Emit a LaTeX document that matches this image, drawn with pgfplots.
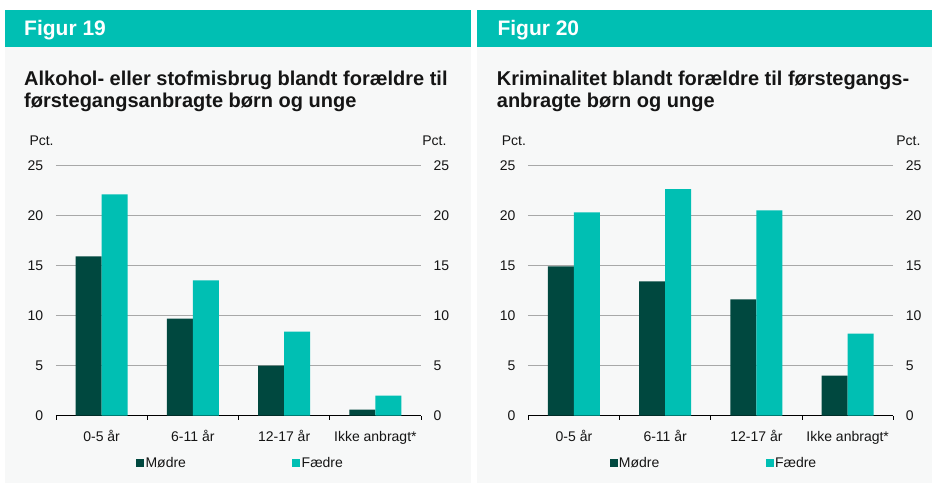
\documentclass[border=0pt]{standalone}
\usepackage{fontspec}
\setmainfont{Liberation Sans}
\usepackage{pgfplots}
\pgfplotsset{compat=1.18}

\definecolor{dk}{HTML}{00483F}
\definecolor{tl}{HTML}{00BFB3}
\definecolor{bgc}{HTML}{F7F8F8}
\definecolor{gridc}{HTML}{A8A8A8}
\definecolor{txt}{HTML}{151515}

\newcommand\tickfont{\fontsize{14bp}{16bp}\selectfont}

\pgfplotsset{
  base/.style={
    scale only axis, width=365bp, height=250.5bp,
    ymin=0, ymax=25, ytick={0,5,...,25},
    xmin=-0.5, xmax=3.5,
    ticklabel style={font=\tickfont, text=txt},
    /pgf/number format/assume math mode=true,
  },
  panel/.style={
    base,
    ybar=0pt, bar width=26bp,
    xtick={0,1,2,3},
    xticklabels={0-5 år,6-11 år,12-17 år,Ikke anbragt*},
    xtick style={draw=none},
    xticklabel style={anchor=base, yshift=-21.6bp, inner sep=0pt},
    extra x ticks={-0.5,0.5,1.5,2.5,3.5},
    extra x tick labels={},
    extra x tick style={grid=none, tick align=outside, major tick length=4bp,
      xtick style={draw=black, line width=0.8bp}},
    axis x line*=bottom, axis y line*=left,
    x axis line style={-, black, line width=1bp},
    y axis line style={draw=none},
    ytick style={draw=none},
    ymajorgrids, grid style={gridc, line width=0.8bp},
    yticklabel style={anchor=east, inner sep=0pt, xshift=-12.7bp},
    legend columns=2,
    legend image code/.code={\fill[#1] (0bp,-4bp) rectangle (8bp,4bp);},
    legend style={draw=none, fill=none, anchor=west, inner sep=0pt,
      font=\tickfont, text=txt, nodes={inner sep=1.35bp},
      /tikz/every even column/.append style={column sep=105bp}},
  },
  rightlab/.style={
    base,
    hide x axis,
    axis y line*=right,
    y axis line style={draw=none},
    ytick style={draw=none},
    yticklabel style={anchor=west, inner sep=0pt, xshift=12.3bp},
  },
}

\begin{document}
\begin{tikzpicture}
% canvas
\path (0bp,0bp) rectangle (932bp,483bp);
% panel backgrounds and headers
\fill[bgc] (5bp,0bp) rectangle (471bp,436bp);
\fill[tl] (5bp,436bp) rectangle (471bp,473bp);
\fill[bgc] (477bp,0bp) rectangle (932bp,436bp);
\fill[tl] (477bp,436bp) rectangle (932bp,473bp);

\node[anchor=base west, inner sep=0pt, text=white, font=\fontsize{21bp}{24bp}\selectfont\bfseries] at (24bp,447bp) {Figur 19};
\node[anchor=base west, inner sep=0pt, text=white, font=\fontsize{21bp}{24bp}\selectfont\bfseries] at (497.3bp,447bp) {Figur 20};

\node[anchor=base west, inner sep=0pt, text=txt, font=\fontsize{20bp}{23bp}\selectfont\bfseries] at (24bp,397bp) {Alkohol- eller stofmisbrug blandt forældre til};
\node[anchor=base west, inner sep=0pt, text=txt, font=\fontsize{20bp}{23bp}\selectfont\bfseries] at (24bp,375bp) {førstegangsanbragte børn og unge};
\node[anchor=base west, inner sep=0pt, text=txt, font=\fontsize{20bp}{23bp}\selectfont\bfseries] at (496.7bp,397bp) {Kriminalitet blandt forældre til førstegangs-};
\node[anchor=base west, inner sep=0pt, text=txt, font=\fontsize{20bp}{23bp}\selectfont\bfseries] at (496.7bp,375bp) {anbragte børn og unge};

\node[anchor=base west, inner sep=0pt, text=txt, font=\tickfont] at (29.3bp,337.5bp) {Pct.};
\node[anchor=base east, inner sep=0pt, text=txt, font=\tickfont] at (446.7bp,337.5bp) {Pct.};
\node[anchor=base west, inner sep=0pt, text=txt, font=\tickfont] at (501.7bp,337.5bp) {Pct.};
\node[anchor=base east, inner sep=0pt, text=txt, font=\tickfont] at (920.7bp,337.5bp) {Pct.};

% Figur 19
\begin{axis}[panel, at={(56bp,67.3bp)}, anchor=south west,
  legend style={at={(0.2192,-0.188)}}]
\addplot[fill=dk, draw=none] coordinates {(0,15.9) (1,9.7) (2,5.0) (3,0.6)};
\addplot[fill=tl, draw=none] coordinates {(0,22.1) (1,13.5) (2,8.4) (3,2.0)};
\legend{Mødre,Fædre}
\end{axis}
\begin{axis}[rightlab, at={(56bp,67.3bp)}, anchor=south west]
\addplot[draw=none] coordinates {(0,0)};
\end{axis}

% Figur 20
\begin{axis}[panel, at={(528.3bp,67.3bp)}, anchor=south west,
  legend style={at={(0.222,-0.188)}}]
\addplot[fill=dk, draw=none] coordinates {(0,14.9) (1,13.4) (2,11.6) (3,4.0)};
\addplot[fill=tl, draw=none] coordinates {(0,20.3) (1,22.6) (2,20.5) (3,8.2)};
\legend{Mødre,Fædre}
\end{axis}
\begin{axis}[rightlab, at={(528.3bp,67.3bp)}, anchor=south west]
\addplot[draw=none] coordinates {(0,0)};
\end{axis}
\end{tikzpicture}
\end{document}
